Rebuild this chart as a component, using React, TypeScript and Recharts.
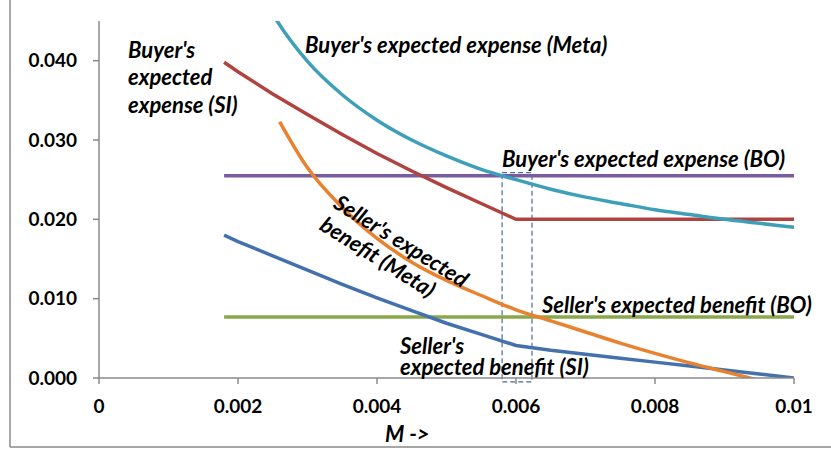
import React from 'react';
import { LineChart, Line, XAxis, YAxis, ReferenceArea } from 'recharts';

// M values shared by all series (null where a series has no point)
const mValues = [0.0018, 0.002, 0.0025, 0.0026, 0.003, 0.0035, 0.004, 0.0045, 0.005, 0.0055, 0.006, 0.0065, 0.007, 0.0075, 0.008, 0.0085, 0.009, 0.0095, 0.01];

const buyerMeta = [0.0599, 0.0549, 0.0459, null, 0.0399, 0.0357, 0.0325, 0.03, 0.028, 0.0263, 0.025, 0.0238, 0.0228, 0.022, 0.0212, 0.0206, 0.02, 0.0195, 0.019];
const buyerSI = [0.0398, 0.0386, 0.0358, null, 0.0332, 0.0307, 0.0283, 0.0261, 0.024, 0.022, 0.02, 0.02, 0.02, 0.02, 0.02, 0.02, 0.02, 0.02, 0.02];
const buyerBO = [0.0255, 0.0255, 0.0255, 0.0255, 0.0255, 0.0255, 0.0255, 0.0255, 0.0255, 0.0255, 0.0255, 0.0255, 0.0255, 0.0255, 0.0255, 0.0255, 0.0255, 0.0255, 0.0255];
const sellerBO = [0.0077, 0.0077, 0.0077, 0.0077, 0.0077, 0.0077, 0.0077, 0.0077, 0.0077, 0.0077, 0.0077, 0.0077, 0.0077, 0.0077, 0.0077, 0.0077, 0.0077, 0.0077, 0.0077];
const sellerMeta = [null, null, null, 0.0323, 0.0265, 0.0215, 0.0176, 0.0146, 0.0123, 0.0104, 0.0086, 0.0072, 0.0058, 0.0044, 0.0031, 0.0019, 0.0008, -0.0003, null];
const sellerSI = [0.018, 0.0172, 0.0154, null, 0.0136, 0.0118, 0.0101, 0.0085, 0.0069, 0.0055, 0.0041, 0.0035, 0.003, 0.0025, 0.002, 0.0015, 0.001, 0.0005, 0];

const xTicks = [0, 0.002, 0.004, 0.006, 0.008, 0.01];
const xTickLabels = ['0', '0.002', '0.004', '0.006', '0.008', '0.01'];
const yTicks = [0, 0.01, 0.02, 0.03, 0.04];
const yTickLabels = ['0.000', '0.010', '0.020', '0.030', '0.040'];

// highlighted window around M = 0.006
const boxM = [0.0058, 0.00623];
const boxV = [-0.0005, 0.0259];

const data = mValues.map((m, i) => ({
  m,
  buyerMeta: buyerMeta[i],
  buyerSI: buyerSI[i],
  buyerBO: buyerBO[i],
  sellerBO: sellerBO[i],
  sellerMeta: sellerMeta[i],
  sellerSI: sellerSI[i],
}));

const FONT = 'Lato, "Liberation Sans", sans-serif';
const tickStyle = { fontFamily: FONT, fontWeight: 700, fontSize: 19, fill: '#000' };
const axisColor = '#8a8a8a';

// SI curves have a hard corner at M = 0.006, so they stay straight-segmented
const series = [
  { key: 'buyerBO', color: '#7a5b9e', curve: 'linear' },
  { key: 'sellerBO', color: '#88a84a', curve: 'linear' },
  { key: 'buyerSI', color: '#b0423f', curve: 'linear' },
  { key: 'sellerSI', color: '#4471ad', curve: 'linear' },
  { key: 'sellerMeta', color: '#e8822f', curve: 'monotone' },
  { key: 'buyerMeta', color: '#3e9fb8', curve: 'monotone' },
];

const labelStyle: React.CSSProperties = {
  fontFamily: FONT,
  fontWeight: 700,
  fontStyle: 'italic',
  fontSize: 22,
};

const Annotations: React.FC = () => (
  <svg width={831} height={451} style={{ position: 'absolute', left: 0, top: 0, pointerEvents: 'none' }}>
    <line x1={10} y1={0} x2={10} y2={447} stroke={axisColor} strokeWidth={1.5} />
    <line x1={10} y1={447} x2={831} y2={447} stroke={axisColor} strokeWidth={1.5} />
    <g style={labelStyle} fill="#000">
      <text x={305} y={53}>Buyer's expected expense (Meta)</text>
      <text x={128} y={58}>Buyer's</text>
      <text x={128} y={85}>expected</text>
      <text x={128} y={113}>expense (SI)</text>
      <text x={502} y={167}>Buyer's expected expense (BO)</text>
      <text x={542} y={313}>Seller's expected benefit (BO)</text>
      <text x={400} y={354}>Seller's</text>
      <text x={400} y={375}>expected benefit (SI)</text>
      <g transform="translate(332 207) rotate(32)">
        <text x={0} y={0}>Seller's expected</text>
        <text x={0} y={26}>benefit (Meta)</text>
      </g>
      <text x={385} y={442}>M -&gt;</text>
    </g>
  </svg>
);

const App: React.FC = () => {
  return (
    <div style={{ position: 'absolute', left: 0, top: 0, width: 831, height: 451, background: '#fff' }}>
      <LineChart width={831} height={451} data={data} margin={{ top: 21, right: 37, bottom: 43, left: 10 }}>
        <XAxis
          dataKey="m"
          type="number"
          domain={[0, 0.01]}
          ticks={xTicks}
          tickFormatter={(v: number) => xTickLabels[xTicks.indexOf(v)] ?? String(v)}
          tick={tickStyle}
          tickSize={6}
          tickMargin={16}
          height={30}
          stroke={axisColor}
          strokeWidth={1.5}
          allowDataOverflow
        />
        <YAxis
          type="number"
          domain={[0, 0.045]}
          ticks={yTicks}
          tickFormatter={(v: number) => yTickLabels[yTicks.indexOf(v)] ?? String(v)}
          tick={tickStyle}
          tickSize={6}
          tickMargin={16}
          width={89}
          stroke={axisColor}
          strokeWidth={1.5}
          allowDataOverflow
        />
        {series.map((s) => (
          <Line
            key={s.key}
            dataKey={s.key}
            type={s.curve as 'linear' | 'monotone'}
            stroke={s.color}
            strokeWidth={3.5}
            dot={false}
            activeDot={false}
            connectNulls
            isAnimationActive={false}
          />
        ))}
        <ReferenceArea
          x1={boxM[0]}
          x2={boxM[1]}
          y1={boxV[0]}
          y2={boxV[1]}
          fill="none"
          stroke="#4a6c9c"
          strokeWidth={1.2}
          strokeDasharray="5 3"
          ifOverflow="visible"
        />
      </LineChart>
      <Annotations />
    </div>
  );
};

export default App;
